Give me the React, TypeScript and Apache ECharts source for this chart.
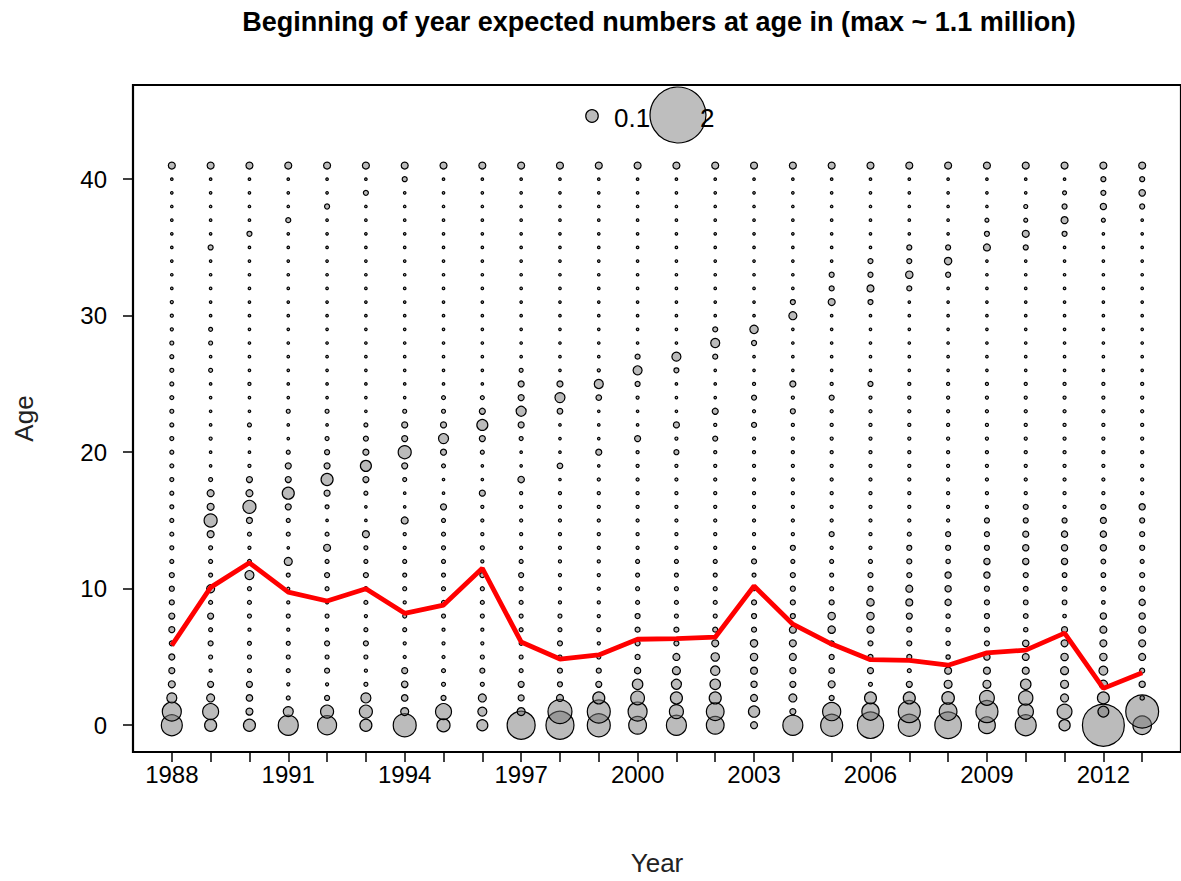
import React, { useEffect, useRef } from "react";
import * as echarts from "echarts";

// Expected numbers at age, in thousands of fish (legend values are in millions)
const years = [1988, 1989, 1990, 1991, 1992, 1993, 1994, 1995, 1996, 1997, 1998, 1999, 2000, 2001, 2002, 2003, 2004, 2005, 2006, 2007, 2008, 2009, 2010, 2011, 2012, 2013];
const ages = [0, 1, 2, 3, 4, 5, 6, 7, 8, 9, 10, 11, 12, 13, 14, 15, 16, 17, 18, 19, 20, 21, 22, 23, 24, 25, 26, 27, 28, 29, 30, 31, 32, 33, 34, 35, 36, 37, 38, 39, 40, 41];

const n1988 = [280, 230, 64, 31, 23, 23, 16, 23, 23, 16, 16, 16, 10, 10, 10, 10, 10, 10, 10, 10, 10, 10, 10, 10, 10, 10, 10, 10, 10, 6, 6, 6, 4, 4, 4, 4, 4, 4, 4, 4, 4, 31];
const n1989 = [92, 163, 41, 23, 6, 10, 16, 10, 23, 10, 41, 10, 10, 10, 31, 108, 31, 31, 10, 4, 4, 6, 4, 4, 4, 4, 10, 4, 10, 10, 4, 4, 4, 4, 4, 16, 4, 4, 4, 4, 4, 31];
const n1990 = [92, 31, 27, 23, 10, 10, 10, 6, 10, 10, 10, 52, 10, 6, 10, 23, 108, 31, 23, 6, 4, 4, 10, 4, 4, 6, 4, 4, 4, 4, 4, 4, 4, 4, 4, 4, 16, 4, 4, 4, 4, 31];
const n1991 = [255, 64, 10, 6, 10, 10, 10, 6, 10, 6, 6, 10, 41, 4, 10, 10, 23, 92, 23, 23, 10, 4, 4, 10, 4, 4, 4, 4, 4, 4, 4, 4, 4, 4, 4, 4, 4, 16, 4, 4, 4, 31];
const n1992 = [230, 108, 16, 6, 16, 10, 16, 6, 10, 6, 10, 16, 10, 31, 10, 4, 10, 23, 92, 23, 16, 10, 4, 10, 4, 4, 4, 4, 4, 4, 4, 4, 4, 4, 4, 4, 4, 4, 16, 4, 4, 31];
const n1993 = [92, 108, 64, 10, 6, 10, 16, 10, 6, 10, 10, 16, 10, 10, 31, 4, 4, 10, 23, 77, 23, 16, 10, 4, 4, 4, 4, 4, 4, 4, 4, 4, 4, 4, 4, 4, 4, 4, 4, 16, 4, 31];
const n1994 = [337, 41, 27, 27, 23, 6, 6, 10, 10, 6, 10, 10, 10, 6, 6, 31, 4, 4, 10, 23, 108, 23, 23, 10, 4, 4, 4, 4, 4, 4, 4, 4, 4, 4, 4, 4, 4, 4, 4, 4, 16, 31];
const n1995 = [108, 163, 16, 10, 10, 6, 6, 6, 10, 10, 10, 10, 10, 10, 10, 10, 23, 4, 4, 10, 23, 64, 23, 10, 10, 4, 4, 4, 4, 4, 4, 4, 4, 4, 4, 4, 4, 4, 4, 4, 4, 31];
const n1996 = [77, 52, 41, 10, 16, 10, 6, 6, 10, 10, 10, 16, 6, 10, 6, 6, 6, 23, 4, 4, 10, 23, 77, 23, 10, 4, 4, 4, 4, 4, 4, 4, 4, 4, 4, 4, 4, 4, 4, 4, 4, 31];
const n1997 = [500, 41, 23, 23, 10, 10, 10, 10, 10, 10, 10, 16, 10, 6, 6, 6, 6, 6, 27, 4, 4, 10, 23, 64, 23, 23, 10, 4, 4, 4, 4, 4, 4, 4, 4, 4, 4, 4, 4, 4, 4, 31];
const n1998 = [500, 367, 31, 16, 16, 10, 16, 10, 10, 6, 6, 6, 6, 6, 6, 6, 6, 6, 4, 20, 4, 4, 4, 20, 64, 23, 4, 4, 4, 4, 4, 4, 4, 4, 4, 4, 4, 4, 4, 4, 4, 31];
const n1999 = [337, 337, 92, 23, 16, 10, 6, 10, 6, 6, 6, 6, 6, 6, 6, 6, 6, 6, 6, 4, 23, 4, 4, 4, 20, 52, 6, 4, 4, 4, 4, 4, 4, 4, 4, 4, 4, 4, 4, 4, 4, 31];
const n2000 = [200, 230, 120, 70, 25, 16, 16, 16, 16, 10, 10, 10, 10, 6, 6, 6, 6, 6, 6, 6, 6, 23, 4, 4, 6, 16, 52, 16, 4, 4, 4, 4, 4, 4, 4, 4, 4, 4, 4, 4, 4, 31];
const n2001 = [255, 125, 92, 64, 41, 31, 16, 16, 10, 10, 10, 10, 10, 6, 6, 6, 6, 6, 6, 6, 16, 6, 23, 4, 4, 4, 16, 52, 4, 4, 4, 4, 4, 4, 4, 4, 4, 4, 4, 4, 4, 31];
const n2002 = [200, 200, 92, 70, 55, 45, 31, 16, 10, 10, 10, 10, 10, 6, 6, 6, 6, 6, 6, 6, 6, 16, 6, 23, 4, 4, 4, 16, 52, 16, 4, 4, 4, 4, 4, 4, 4, 4, 4, 4, 4, 31];
const n2003 = [31, 80, 31, 25, 31, 35, 35, 16, 16, 16, 10, 10, 16, 6, 6, 6, 6, 6, 6, 6, 6, 6, 16, 6, 16, 6, 4, 4, 16, 45, 4, 4, 4, 4, 4, 4, 4, 4, 4, 4, 4, 31];
const n2004 = [255, 23, 41, 23, 23, 31, 31, 31, 16, 16, 16, 16, 10, 16, 6, 6, 6, 6, 6, 6, 6, 6, 6, 16, 6, 23, 4, 4, 4, 4, 41, 16, 4, 4, 4, 4, 4, 4, 4, 4, 4, 31];
const n2005 = [310, 210, 16, 31, 20, 16, 16, 35, 35, 16, 10, 10, 10, 6, 16, 6, 6, 6, 6, 6, 6, 6, 6, 6, 16, 6, 4, 4, 4, 4, 4, 31, 16, 16, 4, 4, 4, 4, 4, 4, 4, 31];
const n2006 = [440, 190, 90, 10, 23, 16, 16, 31, 35, 35, 16, 16, 10, 6, 6, 6, 6, 6, 6, 6, 6, 6, 6, 6, 6, 16, 4, 4, 4, 4, 4, 16, 31, 16, 16, 4, 4, 4, 4, 4, 4, 31];
const n2007 = [310, 310, 92, 23, 10, 16, 16, 16, 23, 31, 31, 16, 16, 16, 10, 6, 6, 6, 6, 6, 6, 6, 6, 6, 6, 6, 4, 4, 4, 4, 4, 4, 16, 35, 16, 16, 4, 4, 4, 4, 4, 31];
const n2008 = [450, 200, 100, 41, 31, 12, 12, 12, 12, 25, 25, 25, 12, 16, 16, 6, 6, 6, 6, 6, 6, 6, 6, 6, 6, 6, 4, 4, 4, 4, 4, 4, 4, 16, 35, 16, 4, 4, 4, 4, 4, 31];
const n2009 = [180, 310, 140, 41, 31, 25, 16, 16, 16, 16, 16, 25, 25, 16, 16, 16, 6, 6, 6, 6, 6, 6, 6, 6, 6, 6, 4, 4, 4, 4, 4, 4, 4, 4, 4, 31, 16, 10, 4, 4, 4, 31];
const n2010 = [280, 150, 130, 70, 31, 30, 27, 12, 14, 14, 14, 16, 25, 25, 23, 16, 16, 6, 6, 6, 6, 6, 6, 6, 6, 6, 4, 4, 4, 4, 4, 4, 4, 4, 4, 16, 31, 10, 10, 4, 4, 31];
const n2011 = [80, 140, 41, 41, 41, 35, 31, 23, 8, 14, 14, 14, 25, 25, 25, 16, 6, 6, 6, 6, 6, 6, 6, 6, 6, 6, 4, 4, 4, 4, 4, 4, 4, 4, 4, 4, 16, 31, 16, 10, 4, 31];
const n2012 = [1120, 75, 90, 45, 50, 35, 31, 31, 25, 8, 14, 14, 14, 25, 25, 23, 16, 6, 6, 6, 6, 6, 6, 6, 6, 6, 4, 4, 4, 4, 4, 4, 4, 4, 4, 4, 4, 10, 25, 16, 16, 31];
const n2013 = [220, 690, 12, 25, 16, 31, 31, 31, 25, 25, 16, 16, 10, 16, 16, 16, 25, 6, 6, 6, 6, 6, 6, 6, 6, 6, 4, 4, 4, 4, 4, 4, 4, 4, 4, 4, 4, 4, 16, 27, 16, 31];

const numbersByYear = [n1988, n1989, n1990, n1991, n1992, n1993, n1994, n1995, n1996, n1997, n1998, n1999, n2000, n2001, n2002, n2003, n2004, n2005, n2006, n2007, n2008, n2009, n2010, n2011, n2012, n2013];

const meanAge = [5.85, 10.1, 11.9, 9.75, 9.1, 10.0, 8.2, 8.8, 11.5, 6.1, 4.85, 5.15, 6.3, 6.35, 6.45, 10.2, 7.4, 5.95, 4.8, 4.75, 4.4, 5.3, 5.5, 6.75, 2.7, 3.85];

const xLabelYears = [1988, 1991, 1994, 1997, 2000, 2003, 2006, 2009, 2012];
const yTicks = [0, 10, 20, 30, 40];
const legendValues = [0.1, 2]; // millions

const FILL = "rgba(120,120,120,0.5)";
const K = 39.6; // diameter px per sqrt(million)

export default function App() {
  const ref = useRef<HTMLDivElement>(null);
  useEffect(() => {
    if (!ref.current) return;
    const chart = echarts.init(ref.current, null, { renderer: "svg" });
    const bubbles: number[][] = [];
    years.forEach((yr, i) => {
      ages.forEach((a, j) => {
        bubbles.push([yr, a, numbersByYear[i][j]]);
      });
    });
    const sizeOf = (millions: number) => K * Math.sqrt(millions);
    const font = "Liberation Sans, Arial, sans-serif";
    chart.setOption({
      animation: false,
      backgroundColor: "#fff",
      grid: {
        left: 133,
        top: 85,
        width: 1053,
        height: 672,
        show: true,
        borderColor: "#000",
        borderWidth: 2.2,
        backgroundColor: "transparent",
      },
      xAxis: {
        type: "value",
        min: 1987,
        max: 2014,
        name: "Year",
        nameLocation: "middle",
        nameGap: 98,
        nameTextStyle: { fontSize: 26, color: "#222", fontFamily: font },
        axisLine: { show: false, onZero: false },
        axisTick: { show: true, customValues: years, length: 10, lineStyle: { color: "#000", width: 1.5 } },
        axisLabel: {
          customValues: xLabelYears,
          fontSize: 24,
          color: "#000",
          margin: 10,
          fontFamily: font,
          formatter: (v: number) => String(Math.round(v)),
        },
        splitLine: { show: false },
      },
      yAxis: {
        type: "value",
        min: -1.96,
        max: 46.9,
        name: "Age",
        nameLocation: "middle",
        nameGap: 96,
        nameTextStyle: { fontSize: 26, color: "#222", fontFamily: font },
        axisLine: { show: false, onZero: false },
        axisTick: { show: true, customValues: yTicks, length: 10, lineStyle: { color: "#000", width: 1.5 } },
        axisLabel: {
          customValues: yTicks,
          fontSize: 24,
          color: "#000",
          margin: 26,
          fontFamily: font,
          formatter: (v: number) => String(Math.round(v)),
        },
        splitLine: { show: false },
      },
      graphic: [
        {
          type: "text",
          x: 659,
          y: 22,
          style: {
            text: "Beginning of year expected numbers at age in (max ~ 1.1 million)",
            fontSize: 27,
            fontWeight: "bold",
            fontFamily: font,
            fill: "#000",
            textAlign: "center",
            textVerticalAlign: "middle",
          },
        },
        {
          type: "circle",
          shape: { cx: 592, cy: 116, r: sizeOf(legendValues[0]) / 2 },
          style: { fill: FILL, stroke: "#000", lineWidth: 1.2 },
          z: 100,
        },
        {
          type: "text",
          x: 614,
          y: 118,
          style: { text: String(legendValues[0]), fontSize: 26, fontFamily: font, fill: "#000", textVerticalAlign: "middle" },
          z: 100,
        },
        {
          type: "circle",
          shape: { cx: 678, cy: 115, r: sizeOf(legendValues[1]) / 2 },
          style: { fill: "#BEBEBE", stroke: "#000", lineWidth: 1.2 },
          z: 101,
        },
        {
          type: "text",
          x: 700,
          y: 118,
          style: { text: String(legendValues[1]), fontSize: 26, fontFamily: font, fill: "#000", textVerticalAlign: "middle" },
          z: 102,
        },
      ],
      series: [
        {
          type: "scatter",
          data: bubbles,
          symbol: "circle",
          symbolSize: (v: number[]) => Math.max(2, sizeOf(v[2] / 1000)),
          itemStyle: { color: FILL, borderColor: "#000", borderWidth: 1.2, opacity: 1 },
          emphasis: { disabled: true },
          z: 2,
        },
        {
          type: "line",
          data: years.map((yr, i) => [yr, meanAge[i]]),
          showSymbol: false,
          symbol: "none",
          lineStyle: { color: "#FF0000", width: 4.8 },
          itemStyle: { color: "#FF0000" },
          z: 5,
        },
      ],
    });
    return () => chart.dispose();
  }, []);
  return (
    <div
      ref={ref}
      style={{ position: "fixed", left: 0, top: 0, width: 1181, height: 881, background: "#fff" }}
    />
  );
}
